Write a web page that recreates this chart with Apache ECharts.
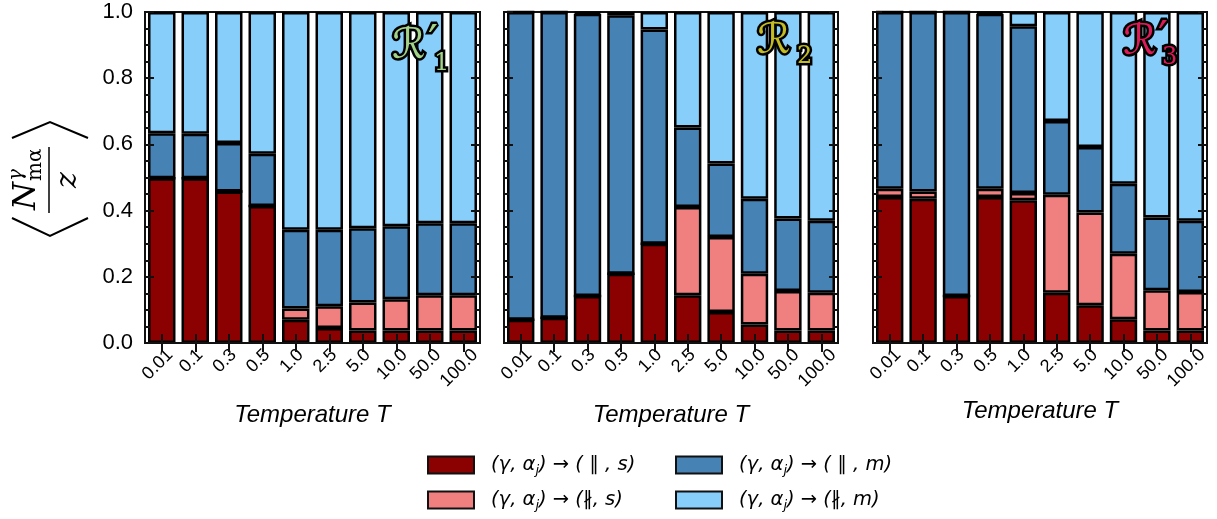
<!DOCTYPE html>
<html>
<head>
<meta charset="utf-8">
<script src="https://cdn.jsdelivr.net/npm/echarts@6/dist/echarts.min.js"></script>
<style>
html,body{margin:0;padding:0;background:#fff;}
#wrap{position:relative;width:1217px;height:519px;}
#chart{position:absolute;left:0;top:0;width:1217px;height:519px;}
#ticks{position:absolute;left:0;top:0;width:1217px;height:519px;pointer-events:none;}
</style>
</head>
<body>
<div id="wrap"><div id="chart"></div><div id="ticks"></div></div>
<script>
// ---- data ----
const temps = ['0.01','0.1','0.3','0.5','1.0','2.5','5.0','10.0','50.0','100.0'];

// Panel R'1
const r1_ps = [0.498,0.498,0.458,0.414,0.070,0.045,0.038,0.038,0.038,0.038];
const r1_ns = [0,0,0,0,0.034,0.066,0.084,0.094,0.106,0.106];
const r1_pm = [0.136,0.134,0.146,0.158,0.238,0.231,0.225,0.221,0.218,0.218];
const r1_nm = [0.366,0.368,0.396,0.428,0.658,0.658,0.653,0.647,0.638,0.638];
// Panel R2
const r2_ps = [0.070,0.076,0.142,0.209,0.300,0.144,0.094,0.056,0.038,0.038];
const r2_ns = [0,0,0,0,0,0.267,0.226,0.153,0.119,0.114];
const r2_pm = [0.930,0.924,0.853,0.781,0.647,0.240,0.222,0.227,0.219,0.217];
const r2_nm = [0,0,0.005,0.010,0.053,0.349,0.458,0.564,0.624,0.631];
// Panel R'3
const r3_ps = [0.441,0.436,0.142,0.441,0.431,0.152,0.114,0.072,0.038,0.038];
const r3_ns = [0.025,0.022,0,0.025,0.022,0.296,0.280,0.198,0.121,0.116];
const r3_pm = [0.534,0.542,0.858,0.529,0.504,0.223,0.198,0.211,0.220,0.215];
const r3_nm = [0,0,0,0.005,0.043,0.329,0.408,0.519,0.621,0.631];

const seriesKeys = ['ps','ns','pm','nm'];
const colors = {ps:'#8b0000', ns:'#f08080', pm:'#4682b4', nm:'#87cefa'};
const legendText = {
  ps: '{t|(γ, α}{s|j}{t|) → ( ∥ , s)}',
  ns: '{t|(γ, α}{s|j}{t|) → (∦, s)}',
  pm: '{t|(γ, α}{s|j}{t|) → ( ∥ , m)}',
  nm: '{t|(γ, α}{s|j}{t|) → (∦, m)}'
};
const panels = [
  {ps:r1_ps, ns:r1_ns, pm:r1_pm, nm:r1_nm},
  {ps:r2_ps, ns:r2_ns, pm:r2_pm, nm:r2_nm},
  {ps:r3_ps, ns:r3_ns, pm:r3_pm, nm:r3_nm}
];

// ---- layout ----
const gridRects = [
  {left:145, top:12, width:335, height:331},
  {left:504, top:12, width:334, height:331},
  {left:873, top:12, width:334, height:331}
];
const nameGaps = [60, 60, 56];
const FRAME = '#111';
const MAJOR_LEN = 9, MINOR_LEN = 5;

// rotated tick labels centred under tick like matplotlib (ha=center, va=top)
const q = 5.7;
const xLabelRich = {
  c3:{fontSize:18, fontFamily:'Liberation Sans', color:'#000', padding:[0, q, q, 0]},
  c4:{fontSize:18, fontFamily:'Liberation Sans', color:'#000', padding:[5, q+5, q, 0]},
  c5:{fontSize:18, fontFamily:'Liberation Sans', color:'#000', padding:[10, q+10, q, 0]}
};

// ================= main chart: bars, labels, legend, titles =================
const grids = [], xAxes = [], yAxes = [], series = [];
gridRects.forEach((g, i) => {
  grids.push(Object.assign({show:true, borderColor:FRAME, borderWidth:2, backgroundColor:'transparent'}, g));
  xAxes.push({
    type:'category', gridIndex:i, data:temps,
    axisLine:{show:true, lineStyle:{color:FRAME, width:2}},
    axisTick:{show:false},
    axisLabel:{rotate:45, align:'center', verticalAlign:'middle', margin:18, interval:0,
      formatter:(v)=>'{c'+Math.min(5, Math.max(3, v.length))+'|'+v+'}', rich:xLabelRich},
    name:'Temperature T', nameLocation:'middle', nameGap:nameGaps[i],
    nameTextStyle:{fontSize:24, fontStyle:'italic', fontFamily:'Liberation Sans', color:'#000'}
  });
  yAxes.push({
    type:'value', gridIndex:i, min:0, max:1, interval:0.2,
    axisLine:{show:true, lineStyle:{color:FRAME, width:2}},
    axisTick:{show:false},
    splitLine:{show:false},
    axisLabel:{show:i===0, margin:12, fontSize:22, color:'#000', fontFamily:'Liberation Sans',
      formatter:(v)=>v.toFixed(1)}
  });
  seriesKeys.forEach(k => {
    series.push({
      name:k, type:'bar', stack:'p'+i,
      xAxisIndex:i, yAxisIndex:i,
      barWidth:'82%',
      data:panels[i][k],
      itemStyle:{color:colors[k], borderColor:'#000', borderWidth:2.5}
    });
  });
});

const legendPos = [
  {k:'ps', left:427, top:455},
  {k:'pm', left:675, top:455},
  {k:'ns', left:427, top:490},
  {k:'nm', left:675, top:490}
];
const legends = legendPos.map(p => ({
  data:[p.k], left:p.left, top:p.top, padding:0, itemWidth:46, itemHeight:17,
  icon:'rect', selectedMode:false,
  itemStyle:{borderColor:'#111', borderWidth:2},
  formatter:(n)=>legendText[n],
  textStyle:{
    rich:{
      t:{fontSize:19.5, fontStyle:'italic', fontFamily:'DejaVu Sans', color:'#000'},
      s:{fontSize:13, fontStyle:'italic', fontFamily:'DejaVu Sans', color:'#000', padding:[11,0,0,0]}
    },
    padding:[0,0,0,12]
  }
}));

function glowText(t, x, y, size, color, family) {
  const font = size + 'px ' + (family || '"DejaVu Sans"');
  const base = {text:t, font:font, textAlign:'left', textVerticalAlign:'middle'};
  return [
    {type:'text', x:x, y:y, z:50, style:Object.assign({}, base, {fill:'#000', stroke:'#000', lineWidth:5, shadowBlur:10, shadowColor:'#000'})},
    {type:'text', x:x, y:y, z:50, style:Object.assign({}, base, {fill:'#000', stroke:'#000', lineWidth:2, shadowBlur:6, shadowColor:'#000'})},
    {type:'text', x:x, y:y, z:51, style:Object.assign({}, base, {fill:color})}
  ];
}
const SERIF = '"DejaVu Serif"';
const titleEls = [].concat(
  glowText('ℛ', 392, 47, 42, '#a3d289'),
  glowText('′', 428, 46, 44, '#a3d289'),
  glowText('1', 434, 64, 24, '#a3d289', SERIF),
  glowText('ℛ', 757, 42, 42, '#c2bb24'),
  glowText('2', 797, 57, 24, '#c2bb24', SERIF),
  glowText('ℛ', 1123, 43, 42, '#dc1c58'),
  glowText('′', 1158, 42, 44, '#dc1c58'),
  glowText('3', 1162, 58, 24, '#dc1c58', SERIF)
);

const yLabel = {
  type:'group', x:49, y:180, rotation:Math.PI/2, z:50,
  children:[
    {type:'line', shape:{x1:-33, y1:0, x2:33, y2:0}, style:{stroke:'#000', lineWidth:1.5}},
    {type:'text', x:-30, y:-22, style:{text:'N', font:'italic 32px "DejaVu Serif"', fill:'#000', textAlign:'left', textVerticalAlign:'middle'}},
    {type:'text', x:-1, y:-32, style:{text:'γ', font:'italic 20px "DejaVu Serif"', fill:'#000', textAlign:'left', textVerticalAlign:'middle'}},
    {type:'text', x:-1, y:-13, style:{text:'mα', font:'20px "DejaVu Serif"', fill:'#000', textAlign:'left', textVerticalAlign:'middle'}},
    {type:'text', x:0, y:19, style:{text:'z', font:'italic 30px "DejaVu Serif"', fill:'#000', textAlign:'center', textVerticalAlign:'middle'}}
  ]
};
const chevTop = {type:'polyline', z:50, shape:{points:[[12,138],[50,122],[88,138]]}, style:{stroke:'#000', lineWidth:2, fill:null}};
const chevBot = {type:'polyline', z:50, shape:{points:[[12,218],[50,236],[88,218]]}, style:{stroke:'#000', lineWidth:2, fill:null}};

const chart = echarts.init(document.getElementById('chart'));
chart.setOption({
  animation:false,
  grid:grids,
  xAxis:xAxes,
  yAxis:yAxes,
  legend:legends,
  series:series,
  graphic:[yLabel, chevTop, chevBot].concat(titleEls)
});

// ================= overlay chart: frame + inward ticks on all four sides =================
const tGrids = [], tX = [], tY = [], tS = [];
const tickLine = {color:FRAME, width:2};
gridRects.forEach((g, i) => {
  tGrids.push(Object.assign({}, g));
  tX.push({type:'category', gridIndex:i, data:temps,
    axisLine:{show:true, lineStyle:{color:FRAME, width:2}},
    axisTick:{show:true, inside:true, alignWithLabel:true, interval:0, length:MAJOR_LEN, lineStyle:tickLine},
    axisLabel:{show:false}, splitLine:{show:false}});
  tY.push({type:'value', gridIndex:i, min:0, max:1, interval:0.2,
    axisLine:{show:true, lineStyle:{color:FRAME, width:2}},
    axisTick:{show:true, inside:true, length:MAJOR_LEN, lineStyle:tickLine},
    minorTick:{show:true, splitNumber:4, length:MINOR_LEN, lineStyle:tickLine},
    splitLine:{show:false}, axisLabel:{show:false}});
  tS.push({type:'bar', xAxisIndex:i, yAxisIndex:i, data:[]});
});
gridRects.forEach((g, i) => {
  const gi = 3 + i;
  tGrids.push(Object.assign({}, g));
  tX.push({type:'category', gridIndex:gi, data:temps, position:'top',
    axisLine:{show:true, lineStyle:{color:FRAME, width:2}},
    axisTick:{show:true, inside:true, alignWithLabel:true, interval:0, length:MAJOR_LEN, lineStyle:tickLine},
    axisLabel:{show:false}, splitLine:{show:false}});
  tY.push({type:'value', gridIndex:gi, min:0, max:1, interval:0.2, position:'right',
    axisLine:{show:true, lineStyle:{color:FRAME, width:2}},
    axisTick:{show:true, inside:true, length:MAJOR_LEN, lineStyle:tickLine},
    minorTick:{show:true, splitNumber:4, length:MINOR_LEN, lineStyle:tickLine},
    splitLine:{show:false}, axisLabel:{show:false}});
  tS.push({type:'bar', xAxisIndex:gi, yAxisIndex:gi, data:[]});
});
const tickChart = echarts.init(document.getElementById('ticks'));
tickChart.setOption({animation:false, grid:tGrids, xAxis:tX, yAxis:tY, series:tS});
</script>
</body>
</html>
